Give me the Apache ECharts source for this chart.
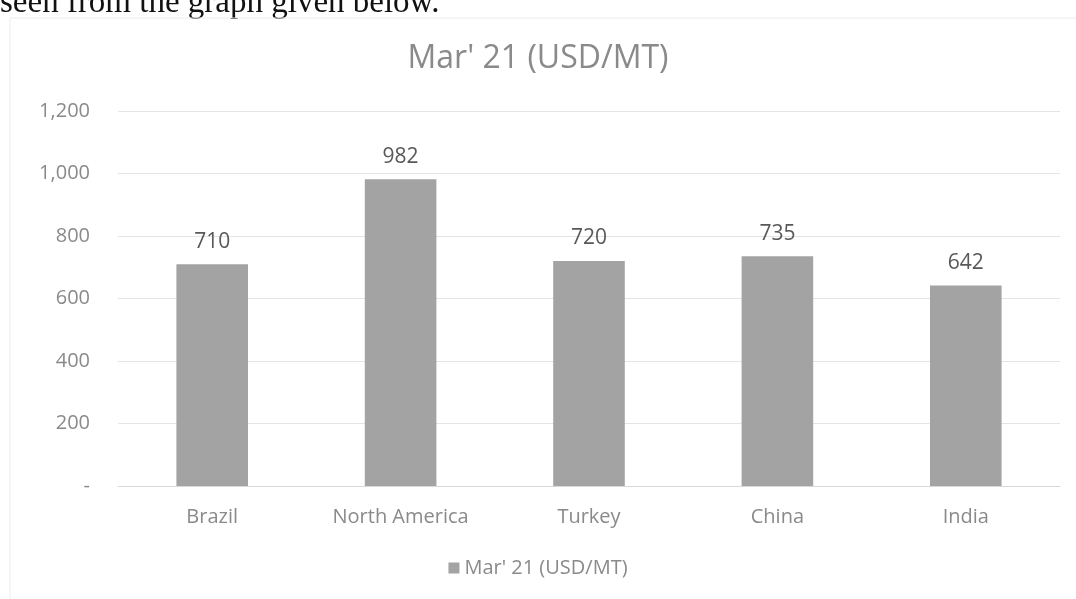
<!DOCTYPE html>
<html><head><meta charset="utf-8">
<script src="https://cdn.jsdelivr.net/npm/echarts@6/dist/echarts.min.js"></script>
<style>html,body{margin:0;padding:0;background:#fff}#c{width:1076px;height:599px}</style>
</head><body><div id="c"></div>
<script>
const categories = ['Brazil', 'North America', 'Turkey', 'China', 'India'];
const values = [710, 982, 720, 735, 642];
const seriesName = "Mar' 21 (USD/MT)";
const titleText = "Mar' 21 (USD/MT)";
const yTicks = [0, 200, 400, 600, 800, 1000, 1200];

const chart = echarts.init(document.getElementById('c'));
const fontFam = "'Open Sans', 'Noto Sans', sans-serif";
chart.setOption({
  animation: false,
  title: {
    text: titleText, left: 'center', top: 38,
    textStyle: { fontFamily: fontFam, fontSize: 32, fontWeight: 'normal', color: '#8a8a8a' }
  },
  graphic: [
    { type: 'text', x: 0, y: 20, style: { text: 'seen from the graph given below.', font: '33px "Liberation Serif", serif', fill: '#111', verticalAlign: 'bottom' } },
    { type: 'rect', shape: { x: 10, y: 18, width: 1080, height: 600 }, style: { fill: 'none', stroke: '#ececec', lineWidth: 1 } }
  ],
  legend: {
    bottom: 16, left: 'center', itemWidth: 11, itemHeight: 11, itemGap: 6,
    textStyle: { fontFamily: fontFam, fontSize: 20, color: '#8a8a8a' },
    data: [{ name: seriesName, icon: 'rect' }]
  },
  grid: { left: 118, right: 16, top: 111, bottom: 113, containLabel: false },
  xAxis: {
    type: 'category', data: categories,
    axisLine: { lineStyle: { color: '#d9d9d9' } },
    axisTick: { show: false },
    axisLabel: { fontFamily: fontFam, fontSize: 20, color: '#8a8a8a', margin: 21 }
  },
  yAxis: {
    type: 'value', min: yTicks[0], max: yTicks[yTicks.length - 1], interval: 200,
    axisLine: { show: false }, axisTick: { show: false },
    splitLine: { lineStyle: { color: '#e4e4e4' } },
    axisLabel: {
      fontFamily: fontFam, fontSize: 20, color: '#8a8a8a', margin: 28,
      formatter: v => v === 0 ? '-' : v.toLocaleString('en-US')
    }
  },
  series: [{
    name: seriesName, type: 'bar', data: values, barWidth: '38%',
    itemStyle: { color: '#a3a3a3' },
    label: { show: true, position: 'top', distance: 12, fontFamily: fontFam, fontSize: 21, color: '#595959',
      formatter: p => p.value.toLocaleString('en-US') }
  }]
});
</script></body></html>
